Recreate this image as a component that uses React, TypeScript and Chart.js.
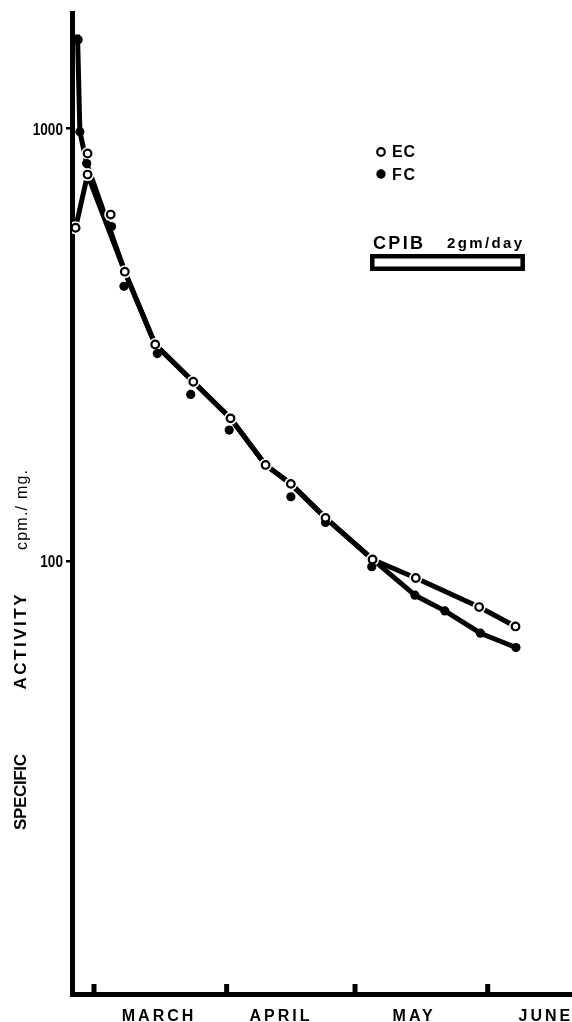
import { useEffect, useRef } from "react";
import { Chart, registerables } from "chart.js";

Chart.register(...registerables);

// ---- data (days counted from 1 March; values in cpm./mg.) ----
const monthLabels = ["MARCH", "APRIL", "MAY", "JUNE"];
const monthLabelDays = [15.2, 43.7, 74.8, 105.6];
const monthStartDays = [0, 31, 61, 92];
const yTickValues = [100, 1000];

const ecDays = [-4.3, -1.5, -1.5, 3.9, 7.2, 14.3, 23.2, 31.9, 40.1, 46.0, 54.1, 65.1, 75.2, 90.0, 98.5];
const ecValues = [590, 876, 783, 633, 467, 317, 260, 214, 167, 151, 126, 101, 91.5, 78.4, 70.7];

const fcDays = [-3.7, -3.3, -1.7, 4.1, 7.0, 14.8, 22.6, 31.6, 46.0, 54.1, 64.9, 75.0, 82.0, 90.3, 98.6];
const fcValues = [1605, 984, 830, 594, 432, 302, 243, 201, 141, 123, 97.2, 83.5, 76.8, 68.2, 63.2];

const ecCurveDays = [-4.3, -1.5, 7.2, 14.3, 23.2, 31.9, 40.1, 46.0, 54.1, 65.1, 75.2, 90.0, 98.5];
const ecCurveValues = [590, 783, 467, 317, 260, 214, 167, 151, 126, 101, 91.5, 78.4, 70.7];

const fcCurveDays = [-3.85, -3.3, -1.7, 7.2, 14.3, 23.2, 31.9, 40.1, 46.0, 54.1, 65.1, 75.0, 82.0, 90.3, 98.6];
const fcCurveValues = [1650, 984, 830, 467, 317, 260, 214, 167, 151, 126, 101, 83.5, 76.8, 68.2, 63.2];

const cpibPeriod = [64.5, 100.7];

const SANS = "'Liberation Sans', Arial, Helvetica, sans-serif";

function pts(xs: number[], ys: number[]) {
  return xs.map((x, i) => ({ x, y: ys[i] }));
}

function drawFitted(
  ctx: CanvasRenderingContext2D,
  text: string,
  x: number,
  yMid: number,
  width: number,
  size: number,
  weight: string,
  align: "left" | "center"
) {
  ctx.font = `${weight} ${size}px ${SANS}`;
  (ctx as any).letterSpacing = "0px";
  const w0 = ctx.measureText(text).width;
  const n = text.length;
  const sp = n > 1 ? (width - w0) / (n - 1) : 0;
  (ctx as any).letterSpacing = `${sp}px`;
  ctx.textAlign = "left";
  ctx.textBaseline = "alphabetic";
  const left = align === "center" ? x - width / 2 : x;
  ctx.fillText(text, left, yMid + size * 0.36);
  (ctx as any).letterSpacing = "0px";
}

const decorPlugin = {
  id: "decor",
  beforeDraw(chart: any) {
    chart.ctx.letterSpacing = "0px";
  },
  afterDatasetsDraw(chart: any) {
    chart.ctx.letterSpacing = "3px";
  },
  afterDraw(chart: any) {
    const ctx: CanvasRenderingContext2D = chart.ctx;
    const xs = chart.scales.x;
    const ys = chart.scales.y;
    const area = chart.chartArea;
    ctx.save();
    (ctx as any).letterSpacing = "0px";
    ctx.fillStyle = "#000";
    ctx.strokeStyle = "#000";

    // month boundary tick marks (pointing up into the plot)
    for (const d of monthStartDays) {
      const px = xs.getPixelForValue(d);
      ctx.fillRect(px - 2.5, area.bottom - 10, 5, 10);
    }

    // y tick labels (condensed bold digits)
    for (const v of yTickValues) {
      const py = ys.getPixelForValue(v);
      ctx.save();
      ctx.translate(63, py);
      ctx.scale(0.8, 1);
      ctx.font = `bold 17px ${SANS}`;
      ctx.textAlign = "right";
      ctx.textBaseline = "alphabetic";
      ctx.fillText(String(v), 0, 6);
      ctx.restore();
    }

    // y axis title (rotated)
    const title = [
      { t: "SPECIFIC", cy: 792, len: 76, size: 17, w: "bold", cx: 20 },
      { t: "ACTIVITY", cy: 642, len: 95, size: 17, w: "bold", cx: 20 },
      { t: "cpm./ mg.", cy: 510, len: 80, size: 16, w: "normal", cx: 21 },
    ];
    for (const it of title) {
      ctx.save();
      ctx.translate(it.cx, it.cy);
      ctx.rotate(-Math.PI / 2);
      drawFitted(ctx, it.t, 0, 0, it.len, it.size, it.w, "center");
      ctx.restore();
    }

    // legend
    ctx.lineWidth = 2.2;
    ctx.beginPath();
    ctx.arc(381, 152, 3.8, 0, Math.PI * 2);
    ctx.fillStyle = "#fff";
    ctx.fill();
    ctx.stroke();
    ctx.fillStyle = "#000";
    ctx.beginPath();
    ctx.arc(381, 174, 4.7, 0, Math.PI * 2);
    ctx.fill();
    drawFitted(ctx, "EC", 392, 151, 23, 16, "bold", "left");
    drawFitted(ctx, "FC", 392, 174, 23, 16, "bold", "left");

    // CPIB treatment bar
    drawFitted(ctx, "CPIB", 373, 243, 50, 18, "bold", "left");
    drawFitted(ctx, "2gm/day", 447, 243, 75, 15, "bold", "left");
    const x0 = xs.getPixelForValue(cpibPeriod[0]);
    const x1 = xs.getPixelForValue(cpibPeriod[1]);
    ctx.lineWidth = 4.5;
    ctx.strokeRect(x0 + 2.25, 256.25, x1 - x0 - 4.5, 12.5);

    ctx.restore();
  },
};

export default function App() {
  const ref = useRef<HTMLCanvasElement>(null);
  useEffect(() => {
    document.body.style.margin = "0";
    const canvas = ref.current!;
    const chart = new Chart(canvas, {
      type: "scatter",
      data: {
        datasets: [
          {
            label: "EC",
            data: pts(ecDays, ecValues),
            showLine: false,
            pointStyle: "circle",
            pointRadius: 3.8,
            pointBackgroundColor: "#fff",
            pointBorderColor: "#000",
            pointBorderWidth: 2.2,
            order: 0,
          },
          {
            label: "FC",
            data: pts(fcDays, fcValues),
            showLine: false,
            pointStyle: "circle",
            pointRadius: 4.6,
            pointBackgroundColor: "#000",
            pointBorderColor: "#000",
            pointBorderWidth: 0,
            order: 0,
          },
          {
            label: "EC halo",
            data: pts(ecDays, ecValues),
            showLine: false,
            pointStyle: "circle",
            pointRadius: 6.5,
            pointBackgroundColor: "#fff",
            pointBorderWidth: 0,
            order: 1,
          },
          {
            label: "EC curve",
            data: pts(ecCurveDays, ecCurveValues),
            showLine: true,
            pointRadius: 0,
            borderColor: "#000",
            borderWidth: 5,
            borderJoinStyle: "round",
            borderCapStyle: "butt",
            tension: 0,
            order: 2,
          },
          {
            label: "FC curve",
            data: pts(fcCurveDays, fcCurveValues),
            showLine: true,
            pointRadius: 0,
            borderColor: "#000",
            borderWidth: 5,
            borderJoinStyle: "round",
            borderCapStyle: "butt",
            tension: 0,
            order: 2,
          },
        ],
      },
      options: {
        animation: false,
        responsive: false,
        events: [],
        layout: { autoPadding: false, padding: { top: 13, left: 0, right: 0, bottom: 0 } },
        plugins: { legend: { display: false }, tooltip: { enabled: false } },
        scales: {
          x: {
            type: "linear",
            position: "bottom",
            min: -5.14,
            max: 111.7,
            afterBuildTicks: (s: any) => {
              s.ticks = monthLabelDays.map((v) => ({ value: v }));
            },
            afterFit: (s: any) => {
              s.height = 28;
              s.paddingLeft = 0;
              s.paddingRight = 0;
            },
            grid: { display: false },
            border: { display: true, color: "#000", width: 5 },
            ticks: {
              z: 1,
              autoSkip: false,
              maxRotation: 0,
              color: "#000",
              padding: 5,
              font: { family: SANS, size: 16, weight: "bold" },
              callback: (_v: any, i: number) => monthLabels[i],
            },
          },
          y: {
            type: "logarithmic",
            position: "left",
            min: 10,
            max: 1850,
            afterBuildTicks: (s: any) => {
              s.ticks = yTickValues.map((v) => ({ value: v }));
            },
            afterFit: (s: any) => {
              s.width = 72;
              s.paddingTop = 0;
              s.paddingBottom = 0;
            },
            grid: {
              display: true,
              drawOnChartArea: false,
              drawTicks: true,
              tickLength: 6,
              color: "#000",
              lineWidth: 2.5,
            },
            border: { display: true, color: "#000", width: 5 },
            ticks: { display: false },
          },
        },
      },
      plugins: [decorPlugin],
    } as any);
    return () => chart.destroy();
  }, []);
  return (
    <canvas
      ref={ref}
      width={572}
      height={1022}
      style={{ display: "block", width: "572px", height: "1022px" }}
    />
  );
}
